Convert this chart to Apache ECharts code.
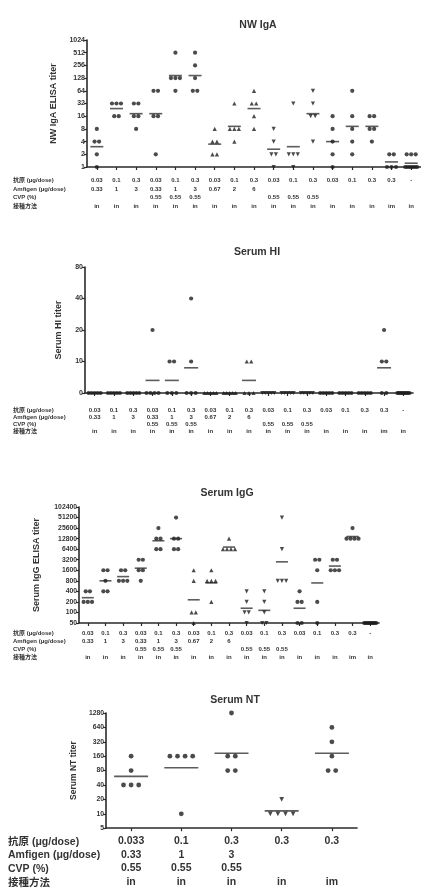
<!DOCTYPE html>
<html><head><meta charset="utf-8">
<script src="https://cdn.jsdelivr.net/npm/echarts@6/dist/echarts.min.js"></script>
<style>html,body{margin:0;padding:0;background:#fff}#c{width:421px;height:889px}</style>
</head><body><div id="c"></div>
<script>
// ---------- table / category data ----------
const antigenDose = ['0.03','0.1','0.3','0.03','0.1','0.3','0.03','0.1','0.3','0.03','0.1','0.3','0.03','0.1','0.3','0.3','-'];
const amfigenDose = ['0.33','1','3','0.33','1','3','0.67','2','6','','','','','','','',''];
const cvpPct      = ['','','','0.55','0.55','0.55','','','','0.55','0.55','0.55','','','','',''];
const routeMain   = ['in','in','in','in','in','in','in','in','in','in','in','in','in','in','in','im','in'];

const ntAntigen = ['0.033','0.1','0.3','0.3','0.3'];
const ntAmfigen = ['0.33','1','3','',''];
const ntCvp     = ['0.55','0.55','0.55','',''];
const ntRoute   = ['in','in','in','in','im'];

const rowLabels = ['抗原 (μg/dose)','Amfigen (μg/dose)','CVP (%)','接種方法'];

// ---------- tick labels ----------
const igaTicks = [1,2,4,8,16,32,64,128,256,512,1024];
const hiTicks  = [0,10,20,40,80];
const iggTicks = [50,100,200,400,800,1600,3200,6400,12800,25600,51200,102400];
const ntTicks  = [5,10,20,40,80,160,320,640,1280];

// ---------- titers per animal, per group ----------
const nwIgA = [
  [8,4,4,2,1],[32,32,32,16,16],[32,32,16,16,8],[64,64,16,16,2],
  [512,128,128,128,64],[512,256,128,64,64],[8,4,4,2,2],[32,8,8,8,4],
  [64,32,32,16,8],[8,4,2,2,1],[32,2,2,2,1],[64,32,16,16,4],
  [16,8,4,2,1],[64,16,8,4,2],[16,16,8,8,4],[2,2,1,1,1],
  [2,2,2,1,1,1,1,1,1,1]
];
const serumHI = [
  [0,0,0,0,0],[0,0,0,0,0],[0,0,0,0,0],[20,0,0,0,0],
  [10,10,0,0,0],[40,10,0,0,0],[0,0,0,0,0],[0,0,0,0,0],
  [10,10,0,0,0],[0,0,0,0,0],[0,0,0,0,0],[0,0,0,0,0],
  [0,0,0,0,0],[0,0,0,0,0],[0,0,0,0,0],[20,10,10,0,0],
  [0,0,0,0,0,0,0,0,0,0]
];
const serumIgG = [
  [400,400,200,200,200],[1600,1600,800,400,400],[1600,1600,800,800,800],[3200,3200,1600,1600,800],
  [25600,12800,12800,6400,6400],[51200,12800,12800,6400,6400],[1600,800,100,100,50],[1600,800,800,800,200],
  [12800,6400,6400,6400,6400],[400,200,100,100,50],[400,200,100,50,50],[51200,6400,800,800,800],
  [400,200,200,50,50],[3200,3200,1600,200,50],[3200,3200,1600,1600,1600],[25600,12800,12800,12800,12800],
  [50,50,50,50,50,50,50,50,50,50]
];
const serumNT = [
  [160,80,40,40,40],[160,160,160,160,10],[1280,160,160,80,80],[20,10,10,10,10],[640,320,160,80,80]
];

const shapesMain = ['circle','circle','circle','circle','circle','circle','triangle','triangle','triangle',
                    'invtri','invtri','invtri','circle','circle','circle','circle','circle'];
const shapesNT = ['circle','circle','circle','invtri','circle'];

// ---------- layout / style ----------
const FONT = "'Liberation Sans', Arial, 'Noto Sans CJK JP', sans-serif";
const INK = '#2a2a2a';

const panels = [
  {title:'NW IgA', tx:253, ty:21, yName:'NW IgA ELISA titer', nameX:54, ticks:igaTicks, base:1, zeroLabel:null,
   values:nwIgA, shapes:shapesMain, cats:[antigenDose,amfigenDose,cvpPct,routeMain],
   grid:{left:87, top:40, width:334, height:127}, yFont:7, tFont:6, lh:8.7, margin:9, rowX:13,
   size:4.2, gap:4.5, spread:12, meanW:13, yNameFont:9},
  {title:'Serum HI', tx:252, ty:248, yName:'Serum HI titer', nameX:59, ticks:hiTicks, base:5, zeroLabel:'0',
   values:serumHI, shapes:shapesMain, cats:[antigenDose,amfigenDose,cvpPct,routeMain],
   grid:{left:85, top:267, width:328, height:126}, yFont:7, tFont:6, lh:7, margin:14, rowX:13,
   size:4.2, gap:4.5, spread:12, meanW:14, yNameFont:9},
  {title:'Serum IgG', tx:222, ty:489, yName:'Serum IgG ELISA titer', nameX:37, ticks:iggTicks, base:50, zeroLabel:null,
   values:serumIgG, shapes:shapesMain, cats:[antigenDose,amfigenDose,cvpPct,routeMain],
   grid:{left:79, top:507, width:300, height:116}, yFont:6.8, tFont:6, lh:8, margin:6.3, rowX:13,
   size:4.2, gap:4.2, spread:12, meanW:12, yNameFont:9},
  {title:'Serum NT', tx:230, ty:696, yName:'Serum NT titer', nameX:75, ticks:ntTicks, base:5, zeroLabel:null,
   values:serumNT, shapes:shapesNT, cats:[ntAntigen,ntAmfigen,ntCvp,ntRoute],
   grid:{left:106, top:713, width:251, height:116}, yFont:6.8, tFont:10.5, lh:13.7, margin:6, rowX:8,
   size:4.8, gap:7.6, spread:26, meanW:34, yNameFont:8.5}
];

function toK(v, base){ return v > 0 ? Math.max(0, Math.log2(v / base)) : 0; }

const option = {
  backgroundColor:'#fff', animation:false,
  title:[], grid:[], xAxis:[], yAxis:[], series:[], graphic:[]
};

panels.forEach((p, pi) => {
  option.title.push({text:p.title, left:p.tx, top:p.ty - 6, textAlign:'center',
    textStyle:{fontFamily:FONT, fontSize:10.5, fontWeight:'bold', color:'#333'}});
  option.grid.push(p.grid);
  option.xAxis.push({
    type:'category', gridIndex:pi, data:p.cats[0].map((_, i) => String(i)), boundaryGap:true,
    axisLine:{show:true, onZero:false, lineStyle:{color:INK, width:1.6}},
    axisTick:{show:true, alignWithLabel:true, length:3, lineStyle:{color:INK, width:1.2}},
    axisLabel:{interval:0, margin:p.margin, fontFamily:FONT, fontSize:p.tFont, lineHeight:p.lh,
      color:'#333', fontWeight:'bold', verticalAlign:'top',
      formatter:(val, idx) => p.cats.map(r => r[idx] === '' ? ' ' : r[idx]).join('\n')},
    splitLine:{show:false}
  });
  const kMax = p.ticks.length - 1;
  option.yAxis.push({
    type:'value', gridIndex:pi, min:0, max:kMax, interval:1,
    name:p.yName, nameLocation:'middle', nameRotate:90,
    nameGap: p.grid.left - p.nameX - p.yNameFont/2,
    nameTextStyle:{fontFamily:FONT, fontSize:p.yNameFont, fontWeight:'bold', color:'#333'},
    axisLine:{show:true, lineStyle:{color:INK, width:1.6}},
    axisTick:{show:true, length:3, lineStyle:{color:INK, width:1.2}},
    axisLabel:{margin:2, fontFamily:FONT, fontSize:p.yFont, fontWeight:'bold', color:'#333',
      formatter:(k) => { const t = p.ticks[Math.round(k)]; return (k === 0 && p.zeroLabel) ? p.zeroLabel : String(t); }},
    splitLine:{show:false}
  });

  const pts = [], means = [];
  p.values.forEach((grp, gi) => {
    const counts = {}, seen = {};
    grp.forEach(v => counts[v] = (counts[v] || 0) + 1);
    let sumK = 0;
    grp.forEach(v => {
      const k = toK(v, p.base);
      sumK += k;
      const n = counts[v];
      const j = seen[v] = (seen[v] === undefined ? 0 : seen[v] + 1);
      const g = n > 1 ? Math.min(p.gap, p.spread / (n - 1)) : 0;
      const dx = (j - (n - 1) / 2) * g;
      const sh = p.shapes[gi];
      pts.push({value:[gi, k], symbol: sh === 'invtri' ? 'triangle' : sh,
        symbolRotate: sh === 'invtri' ? 180 : 0, symbolOffset:[dx, 0]});
    });
    means.push([gi, sumK / grp.length]);
  });

  option.series.push({type:'scatter', xAxisIndex:pi, yAxisIndex:pi, data:means, symbol:'rect',
    symbolSize:[p.meanW, 1.6], itemStyle:{color:'#333'}, z:2, silent:true});
  option.series.push({type:'scatter', xAxisIndex:pi, yAxisIndex:pi, data:pts, symbolSize:p.size,
    itemStyle:{color:'#1e1e1e'}, z:3, silent:true});

  const bottom = p.grid.top + p.grid.height;
  rowLabels.forEach((t, ri) => {
    option.graphic.push({type:'text', silent:true,
      style:{text:t, x:p.rowX, y: bottom + p.margin + p.lh * (ri + 0.5),
        font:'bold ' + p.tFont + 'px ' + FONT, fill:'#333',
        textAlign:'left', textVerticalAlign:'middle', align:'left', verticalAlign:'middle'}});
  });
});

const chart = echarts.init(document.getElementById('c'), null, {renderer:'canvas'});
chart.setOption(option);
</script>
</body></html>
